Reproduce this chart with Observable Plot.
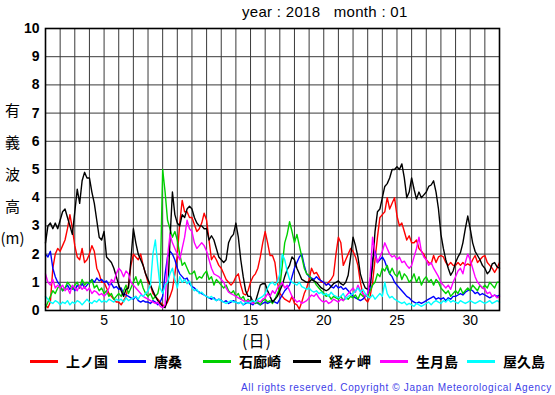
<!DOCTYPE html>
<html>
<head>
<meta charset="utf-8">
<script src="https://cdn.jsdelivr.net/npm/d3@7"></script>
<script src="https://cdn.jsdelivr.net/npm/@observablehq/plot@0.6"></script>
<style>
  html, body { margin: 0; padding: 0; background: #fff; }
  #wrap { position: relative; width: 555px; height: 395px; overflow: hidden; font-family: "Liberation Sans", Arial, sans-serif; }
  #chart { position: absolute; left: 0; top: 0; }
  .abs { position: absolute; white-space: pre; }
  #title { left: 242px; top: 3px; font-size: 15px; letter-spacing: 0.3px; color: #000; }
  #ylab { left: 0; top: 94px; width: 25px; text-align: center; font-size: 15px; line-height: 32px; font-family: "Noto Sans CJK JP", sans-serif; }
  #xlab { left: 242px; top: 328px; font-size: 16px; letter-spacing: 1px; font-family: "Noto Sans CJK JP", sans-serif; }
  .leg { position: absolute; top: 351px; height: 20px; display: flex; align-items: center; font-size: 14px; font-family: "Noto Sans CJK JP", sans-serif; font-weight: bold; }
  .sw { width: 28px; height: 3px; margin-right: 8px; }
  #copy { right: 3px; top: 382px; font-size: 10px; letter-spacing: 0.65px; color: #4040e8; font-family: "Liberation Sans", Arial, sans-serif; }
</style>
</head>
<body>
<div id="wrap">
  <div id="chart"></div>
  <div id="title" class="abs">year : 2018   month : 01</div>
  <div id="ylab" class="abs">有<br>義<br>波<br>高<br>(m)</div>
  <div id="xlab" class="abs">(日)</div>
  <div id="legend"></div>
  <div id="copy" class="abs">All rights reserved. Copyright © Japan Meteorological Agency</div>
</div>
<script>
// Station names and colours (legend order)
const stations = ["上ノ国", "唐桑", "石廊崎", "経ヶ岬", "生月島", "屋久島"];
const colors = ["#ff0000", "#0000ff", "#00d000", "#000000", "#ff00ff", "#00ffff"];
const legendX = [30, 118, 203, 293, 380, 467];

// 4-hourly readings, January 2018 (day 1 00h .. day 32 00h)
const startDay = 1;
const stepHours = 4;
const xTicks = [5, 10, 15, 20, 25, 30];
const yTicks = [0, 1, 2, 3, 4, 5, 6, 7, 8, 9, 10];

const kaminokuni = [
0.2,0.1,0.3,1.5,2.0,2.2, 2.1,2.3,2.5,2.9,3.4,2.9, 2.3,1.9,1.8,2.2,1.7,1.8, 2.0,2.3,2.1,1.5,1.3,1.0,
1.0,0.8,0.6,0.5,0.4,0.3, 0.3,0.2,0.35,0.5,0.9,1.6, 2.0,1.9,1.8,2.0,1.6,1.3, 1.0,0.9,0.6,0.5,0.4,0.3,
0.2,0.15,0.3,0.5,0.75,1.3, 1.95,3.1,3.9,3.5,3.5,3.3, 3.3,3.05,2.8,2.9,3.1,3.45, 3.2,2.5,1.8,1.95,1.8,1.6,
1.5,1.3,1.1,1.0,0.9,1.0, 1.2,1.3,0.9,0.6,0.55,0.7, 1.0,1.2,1.3,1.5,1.9,2.4, 2.8,2.4,1.95,1.95,1.7,1.0,
0.6,0.5,0.4,0.35,0.3,0.5, 0.25,0.2,0.05,0.3,0.6,0.8, 1.1,1.5,1.3,1.35,1.2,1.0, 1.0,0.9,1.0,1.1,1.25,2.0,
2.6,2.4,1.6,1.8,2.0,2.2, 2.1,1.9,1.6,1.0,0.6,0.4, 0.3,0.5,1.0,1.8,2.6,3.3, 3.4,3.5,4.0,3.6,3.8,4.0,
3.35,3.0,3.1,2.8,2.5,2.65, 2.4,2.4,2.5,2.2,2.1,2.0, 1.8,1.7,1.65,1.95,1.7,1.9, 1.95,1.9,1.7,1.6,1.7,1.6,
1.6,1.7,1.6,1.7,1.6,1.65, 1.6,1.8,1.95,1.7,1.8,1.9, 1.95,1.7,1.6,1.5,1.35,1.5, 1.7];

const karakuwa = [
2.0,1.9,2.1,1.5,1.2,1.0, 0.9,0.7,0.8,0.9,0.75,0.85, 0.7,0.9,0.8,0.95,0.8,0.9, 1.0,1.1,1.0,1.15,1.05,1.1,
1.0,1.05,0.9,0.95,0.8,0.85, 0.75,0.8,0.6,0.55,0.5,0.45, 0.4,0.5,0.35,0.3,0.35,0.3, 0.3,0.25,0.35,0.3,0.2,0.3,
0.5,1.3,1.9,2.1,2.0,1.8, 1.5,1.3,1.2,1.1,1.15,0.95, 0.85,0.8,0.7,0.65,0.6,0.55, 0.5,0.45,0.4,0.45,0.35,0.4,
0.35,0.3,0.35,0.25,0.3,0.35, 0.3,0.25,0.3,0.2,0.25,0.3, 0.25,0.2,0.3,0.25,0.2,0.25, 0.3,0.25,0.3,0.35,0.3,0.25,
0.4,0.55,0.7,0.8,0.9,1.2, 1.5,1.7,1.9,2.0,1.6,1.3, 1.2,1.15,1.1,1.2,1.1,1.05, 1.0,0.9,0.95,0.85,0.8,0.9,
0.8,0.85,0.75,0.8,0.7,0.6, 0.5,0.45,0.4,0.35,0.4,0.5, 0.55,0.8,1.8,2.1,1.7,1.8, 1.9,1.75,1.5,1.3,1.2,1.0,
0.9,0.8,0.7,0.6,0.5,0.45, 0.35,0.3,0.25,0.3,0.25,0.3, 0.35,0.4,0.45,0.5,0.4,0.45, 0.4,0.45,0.35,0.45,0.4,0.5,
0.5,0.55,0.6,0.55,0.65,0.7, 0.75,0.7,0.6,0.65,0.55,0.6, 0.55,0.5,0.45,0.5,0.55,0.5, 0.55];

const irozaki = [
0.1,0.3,0.5,0.7,0.6,0.8, 0.9,0.7,0.8,1.0,0.9,0.75, 0.9,1.0,0.8,1.1,0.9,1.0, 0.95,1.1,0.8,0.9,0.7,0.8,
0.6,0.7,0.5,0.6,0.4,0.5, 0.6,0.5,0.7,0.9,0.6,0.8, 1.0,1.2,0.9,1.1,0.8,0.6, 0.5,0.6,0.4,0.5,0.6,1.0,
5.0,4.2,3.2,2.9,2.6,2.8, 2.5,2.0,1.6,1.7,1.5,1.3, 1.3,1.4,1.1,1.2,1.15,1.3, 1.4,1.1,1.2,0.9,1.1,1.0,
0.9,0.8,0.9,0.7,0.6,0.7, 0.5,0.6,0.4,0.5,0.3,0.4, 0.3,0.35,0.25,0.3,0.2,0.35, 0.4,0.3,0.35,0.25,0.4,0.6,
0.8,1.6,2.4,2.7,3.15,2.8, 2.4,2.7,2.3,1.9,1.5,1.3, 1.25,1.1,1.05,0.9,0.8,0.7, 0.6,0.5,0.55,0.4,0.5,0.45,
0.4,0.5,0.35,0.45,0.4,0.5, 0.45,0.55,0.4,0.6,0.5,0.55, 0.5,0.7,0.9,1.0,1.3,1.2, 1.5,1.4,1.6,1.3,1.5,1.3,
1.2,1.4,1.1,1.3,1.2,1.0, 1.1,1.3,1.0,1.2,0.9,1.1, 1.2,1.0,1.1,0.9,1.1,1.0, 0.8,0.7,0.6,0.7,0.5,0.6,
0.7,0.6,0.8,0.6,0.7,0.8, 0.7,0.9,0.8,0.7,0.9,0.8, 0.9,0.8,1.0,0.9,0.8,1.0, 1.0];

const kyogamisaki = [
2.4,3.0,3.1,2.9,3.1,2.9, 3.2,3.5,3.6,3.3,3.0,2.7, 3.5,4.3,3.8,4.6,4.9,4.7, 4.7,4.2,3.8,3.2,2.6,2.5,
2.8,1.9,1.8,1.7,1.5,1.2, 0.9,0.7,0.5,0.75,0.8,1.8, 2.9,2.4,2.0,1.8,1.6,1.3, 1.1,0.9,0.7,0.5,0.35,0.25,
0.15,0.1,0.4,2.5,4.2,3.4, 3.1,3.0,3.4,3.3,3.6,3.7, 3.6,3.3,3.1,3.0,3.0,2.9, 2.9,2.5,2.65,2.5,2.2,1.9,
1.8,1.7,1.8,2.4,2.6,2.7, 3.1,2.6,1.8,1.2,0.7,0.5, 0.5,0.3,0.3,0.6,0.9,0.95, 0.95,0.7,0.5,0.3,0.4,0.5,
0.7,0.9,1.2,1.45,1.6,1.9, 1.8,1.5,1.3,1.1,1.05,1.0, 1.0,1.1,1.05,1.0,0.9,0.8, 0.75,0.7,0.75,0.85,0.95,1.0,
1.05,0.95,0.9,1.0,1.25,1.9, 2.6,2.3,1.9,1.3,1.0,0.8, 0.75,0.9,1.6,2.8,3.5,3.6, 4.0,4.4,4.5,4.7,5.0,5.0,
5.1,5.0,5.2,4.7,4.0,4.2, 4.7,4.3,3.95,4.2,4.0,4.1, 4.2,4.4,4.45,4.6,4.2,3.6, 2.7,2.2,1.8,1.5,1.25,1.4,
1.7,1.9,2.05,2.4,2.9,3.35, 2.9,2.4,2.1,1.95,1.8,1.6, 1.5,1.3,1.4,1.65,1.7,1.55, 1.5];

const ikitsukishima = [
1.3,1.0,0.9,1.1,0.8,0.9, 0.8,0.9,0.7,0.8,0.6,0.9, 0.8,0.7,0.9,0.75,0.85,0.7, 0.8,0.6,0.7,0.65,0.55,0.6,
0.5,0.6,0.8,1.1,1.0,1.3, 1.5,1.4,1.2,1.4,1.3,1.0, 0.9,0.8,0.7,0.6,0.5,0.45, 0.4,0.35,0.3,0.25,0.3,0.15,
0.1,0.2,1.9,2.7,2.4,2.2, 2.0,1.8,2.2,2.6,3.2,2.9, 2.8,2.4,2.2,2.3,2.4,2.3, 2.1,1.8,1.5,1.3,1.25,1.2,
1.1,1.0,0.8,0.65,0.6,0.55, 0.5,0.45,0.4,0.35,0.3,0.35, 0.3,0.25,0.3,0.35,0.3,0.4, 0.45,0.6,0.5,0.7,0.6,0.8,
0.9,1.0,0.8,0.9,0.7,0.5, 0.4,0.3,0.35,0.25,0.3,0.35, 0.45,0.55,0.5,0.6,0.45,0.35, 0.3,0.35,0.25,0.3,0.4,0.35,
0.3,0.4,0.35,0.5,0.6,0.7, 0.8,0.65,0.9,0.7,0.6,0.5, 0.6,1.2,2.6,2.0,1.7,1.9, 2.1,2.4,2.2,2.0,1.9,1.95,
1.8,1.9,1.7,1.75,1.6,1.5, 1.6,1.9,2.2,2.6,2.1,1.9, 1.8,1.6,1.7,1.5,1.35,1.2, 1.0,0.9,0.8,0.9,0.75,1.0,
1.2,1.4,1.5,1.3,1.7,2.0, 1.8,1.5,1.2,1.0,0.9,0.8, 0.75,0.6,0.65,0.5,0.55,0.45, 0.5];

const yakushima = [
0.5,0.4,0.3,0.25,0.35,0.3, 0.2,0.3,0.25,0.35,0.2,0.3, 0.25,0.35,0.3,0.2,0.3,0.4, 0.3,0.25,0.35,0.3,0.4,0.3,
0.35,0.3,0.4,0.35,0.3,0.4, 0.35,0.4,0.3,0.45,0.35,0.4, 0.45,0.5,0.4,0.55,0.5,0.6, 0.7,0.9,2.0,2.5,1.6,0.8,
0.6,0.9,1.0,1.3,1.5,1.1, 0.8,1.2,1.0,1.1,0.95,1.05, 0.8,0.7,0.75,0.6,0.65,0.55, 0.5,0.45,0.5,0.4,0.35,0.4,
0.35,0.3,0.25,0.3,0.35,0.3, 0.3,0.25,0.3,0.2,0.3,0.25, 0.3,0.35,0.3,0.4,0.45,0.5, 0.6,0.8,0.95,1.0,0.9,1.0,
1.3,2.0,1.8,1.4,1.1,1.0, 0.95,0.9,1.0,0.85,0.8,0.75, 0.8,0.7,0.65,0.7,0.6,0.65, 0.55,0.6,0.5,0.65,0.55,0.5,
0.45,0.5,0.6,0.4,0.5,0.55, 0.6,0.7,0.8,0.65,0.75,0.6, 0.5,0.45,0.55,0.4,0.5,0.6, 0.5,1.0,0.6,0.45,0.5,0.4,
0.35,0.3,0.25,0.3,0.2,0.25, 0.2,0.15,0.25,0.2,0.15,0.2, 0.25,0.3,0.2,0.3,0.35,0.3, 0.25,0.35,0.3,0.4,0.3,0.35,
0.3,0.25,0.35,0.3,0.25,0.3, 0.35,0.3,0.25,0.3,0.35,0.3, 0.25,0.3,0.35,0.25,0.3,0.35, 0.3];

const series = [kaminokuni, karakuwa, irozaki, kyogamisaki, ikitsukishima, yakushima];

const rows = [];
series.forEach((vals, s) => {
  vals.forEach((v, i) => rows.push({station: stations[s], day: startDay + i * stepHours / 24, v}));
});

const chart = Plot.plot({
  width: 555,
  height: 345,
  marginLeft: 45,
  marginRight: 56,
  marginTop: 28,
  marginBottom: 35,
  style: {fontFamily: "'Liberation Sans', Arial, sans-serif", color: "#000", background: "#fff"},
  x: {domain: [1, 32]},
  y: {domain: [0, 10]},
  color: {domain: stations, range: colors},
  marks: [
    Plot.gridX(d3.range(1, 33), {stroke: "#3a3a3a", strokeOpacity: 1, strokeWidth: 1}),
    Plot.gridY(yTicks, {stroke: "#3a3a3a", strokeOpacity: 1, strokeWidth: 1}),
    Plot.line(rows, {x: "day", y: "v", z: "station", stroke: "station", strokeWidth: 1.4}),
    Plot.frame({stroke: "#000", strokeWidth: 1.6}),
    Plot.axisX(xTicks, {tickSize: 0, tickPadding: 5, fontSize: 14, label: null}),
    Plot.axisY(yTicks, {tickSize: 0, tickPadding: 6, fontSize: 14, fontWeight: "bold", label: null})
  ]
});
document.getElementById("chart").appendChild(chart);

const legend = document.getElementById("legend");
stations.forEach((name, i) => {
  const item = document.createElement("div");
  item.className = "leg";
  item.style.left = legendX[i] + "px";
  const sw = document.createElement("div");
  sw.className = "sw";
  sw.style.background = colors[i];
  const label = document.createElement("span");
  label.textContent = name;
  item.appendChild(sw);
  item.appendChild(label);
  legend.appendChild(item);
});
</script>
</body>
</html>
